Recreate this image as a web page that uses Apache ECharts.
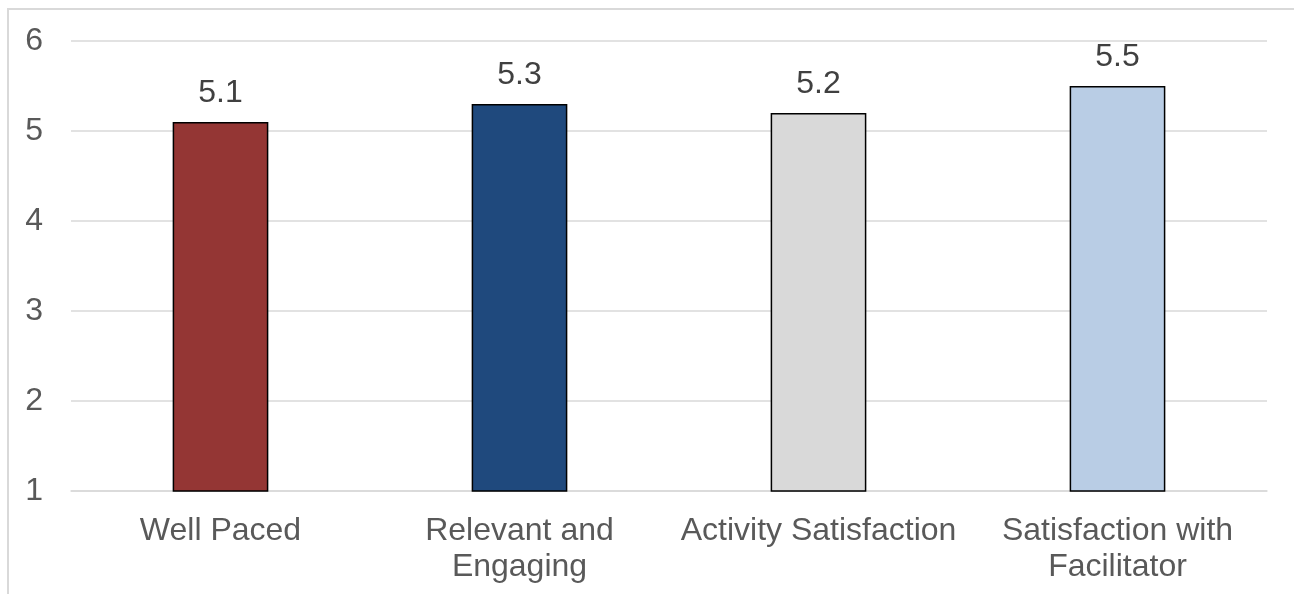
<!DOCTYPE html>
<html>
<head>
<meta charset="utf-8">
<script src="https://cdn.jsdelivr.net/npm/echarts@6/dist/echarts.min.js"></script>
<style>
  html, body { margin: 0; padding: 0; background: #fff; }
  #chart { width: 1294px; height: 594px; }
</style>
</head>
<body>
<div id="chart"></div>
<script>
// Survey ratings per category
const categories = ['Well Paced', 'Relevant and\nEngaging', 'Activity Satisfaction', 'Satisfaction with\nFacilitator'];
const ratings = [5.1, 5.3, 5.2, 5.5];
const barColors = ['#943634', '#1F497D', '#D9D9D9', '#B9CDE5'];
const yTicks = [1, 2, 3, 4, 5, 6];

const chart = echarts.init(document.getElementById('chart'), null, { renderer: 'canvas' });
const font = 'Arial, "Liberation Sans", sans-serif';

chart.setOption({
  animation: false,
  backgroundColor: '#ffffff',
  graphic: [{
    type: 'rect',
    shape: { x: 8, y: 9, width: 1400, height: 700 },
    style: { fill: 'none', stroke: '#d9d9d9', lineWidth: 2 },
    silent: true,
    z: -1
  }],
  grid: { left: 71, right: 27, top: 41, bottom: 103, containLabel: false },
  xAxis: {
    type: 'category',
    data: categories,
    axisLine: { show: true, lineStyle: { color: '#d9d9d9', width: 1.5 } },
    axisTick: { show: false },
    axisLabel: {
      interval: 0,
      margin: 22,
      color: '#595959',
      fontFamily: font,
      fontSize: 32,
      lineHeight: 36
    }
  },
  yAxis: {
    type: 'value',
    min: yTicks[0],
    max: yTicks[yTicks.length - 1],
    interval: 1,
    axisLine: { show: false },
    axisTick: { show: false },
    splitLine: { lineStyle: { color: '#d9d9d9', width: 1.5 } },
    axisLabel: {
      margin: 28,
      color: '#595959',
      fontFamily: font,
      fontSize: 32
    }
  },
  series: [{
    type: 'bar',
    barWidth: '32%',
    data: ratings.map((v, i) => ({
      value: v,
      itemStyle: { color: barColors[i] }
    })),
    itemStyle: { borderColor: '#000000', borderWidth: 1.5 },
    label: {
      show: true,
      position: 'top',
      distance: 13,
      color: '#404040',
      fontFamily: font,
      fontSize: 32,
      formatter: p => p.value.toFixed(1)
    }
  }]
});
</script>
</body>
</html>
